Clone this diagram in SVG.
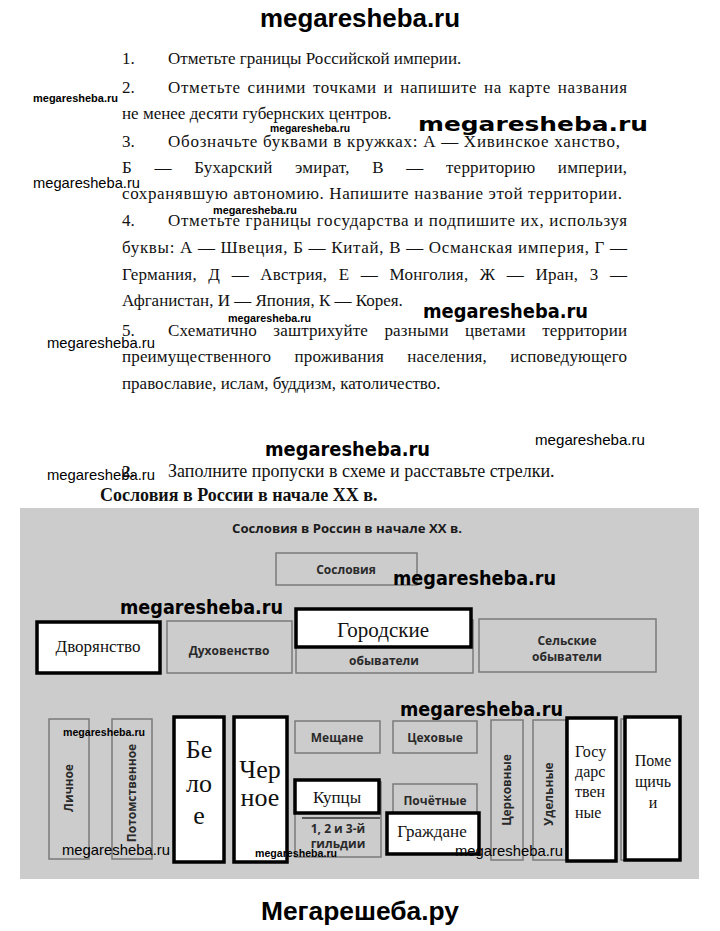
<svg xmlns="http://www.w3.org/2000/svg" width="720" height="931" viewBox="0 0 720 931">
<style>
.t{font-family:"Liberation Serif","Times New Roman",serif;font-size:17px;fill:#111}
.wmb{font-family:"DejaVu Sans",sans-serif;font-weight:bold;fill:#000}
.wms{font-family:"Liberation Sans",Arial,sans-serif;fill:#000}
.g{fill:#cccccc;stroke:#7a7a7a;stroke-width:1.5}
.w{fill:#fff;stroke:#000;stroke-width:3.5}
.s{font-family:"Open Sans","DejaVu Sans",sans-serif;font-weight:bold;font-size:12px;fill:#2a2a2a;text-anchor:middle}
.r{font-family:"Liberation Serif","Times New Roman",serif;fill:#111;text-anchor:middle}
</style>
<rect width="720" height="931" fill="#fff"/>
<text x="360" y="27" text-anchor="middle" font-family="Liberation Sans,Arial,sans-serif" font-weight="bold" font-size="26" textLength="200" lengthAdjust="spacingAndGlyphs">megaresheba.ru</text>

<g id="tasks" class="t">
<text x="122" y="64">1.</text><text x="168" y="64">Отметьте границы Российской империи.</text>
<text x="122" y="93">2.</text><text x="168" y="93" textLength="459" style="word-spacing:2px">Отметьте синими точками и напишите на карте названия</text>
<text x="122" y="119">не менее десяти губернских центров.</text>
<text x="122" y="147">3.</text><text x="168" y="147" textLength="452">Обозначьте буквами в кружках: А — Хивинское ханство,</text>
<text x="122" y="173" textLength="505" style="word-spacing:18px">Б — Бухарский эмират, В — территорию империи,</text>
<text x="122" y="199" textLength="500">сохранявшую автономию. Напишите название этой территории.</text>
<text x="122" y="226">4.</text><text x="168" y="226" textLength="459">Отметьте границы государства и подпишите их, используя</text>
<text x="122" y="253" textLength="505">буквы: А — Швеция, Б — Китай, В — Османская империя, Г —</text>
<text x="122" y="280" textLength="505" style="word-spacing:7px">Германия, Д — Австрия, Е — Монголия, Ж — Иран, 3 —</text>
<text x="122" y="306">Афганистан, И — Япония, К — Корея.</text>
<text x="122" y="336">5.</text><text x="168" y="336" textLength="459" style="word-spacing:12px">Схематично заштрихуйте разными цветами территории</text>
<text x="122" y="362" textLength="505" style="word-spacing:19px">преимущественного проживания населения, исповедующего</text>
<text x="122" y="389">православие, ислам, буддизм, католичество.</text>
<text x="122" y="477" font-weight="bold">2.</text><text x="168" y="477" font-size="18">Заполните пропуски в схеме и расставьте стрелки.</text>
<text x="100" y="501" font-weight="bold" font-size="18">Сословия в России в начале XX в.</text>
</g>

<rect x="20" y="508" width="679" height="371" fill="#cccccc"/>
<text x="347" y="533" text-anchor="middle" font-family="Open Sans,DejaVu Sans,sans-serif" font-weight="bold" font-size="12.5" fill="#1a1a1a" textLength="230" lengthAdjust="spacingAndGlyphs">Сословия в Россин в начале XX в.</text>

<g id="connectors"></g>

<g id="n-soslovia"><rect class="g" x="276" y="553" width="141" height="32"/><text class="s" x="346" y="574">Сословия</text></g>

<g id="n-dvoryanstvo"><rect class="w" x="37" y="622" width="123" height="51"/><text class="r" x="98" y="652" font-size="17">Дворянство</text></g>
<g id="n-duhovenstvo"><rect class="g" x="167" y="621" width="125" height="52"/><text class="s" x="229" y="655">Духовенство</text></g>
<g id="n-gorodskie"><rect class="g" x="296" y="620" width="177" height="53"/><text class="s" x="384" y="665">обыватели</text>
<rect class="w" x="296" y="609" width="175" height="38"/><text class="r" x="383" y="637" font-size="21">Городские</text></g>
<g id="n-selskie"><rect class="g" x="479" y="619" width="177" height="53"/><text class="s" x="567" y="645">Сельские</text><text class="s" x="567" y="661">обыватели</text></g>

<g id="n-lichnoe"><rect class="g" x="49" y="719" width="40" height="140"/><text class="s" transform="translate(73,788) rotate(-90)">Личное</text></g>
<g id="n-potomstv"><rect class="g" x="112" y="719" width="40" height="140"/><text class="s" transform="translate(136,793) rotate(-90)">Потомственное</text></g>
<g id="n-beloe"><rect class="w" x="174" y="717" width="50" height="145"/><text class="r" font-size="26"><tspan x="199" y="758">Бе</tspan><tspan x="199" y="792">ло</tspan><tspan x="199" y="824">е</tspan></text></g>
<g id="n-chernoe"><rect class="w" x="234" y="717" width="53" height="145"/><text class="r" font-size="26"><tspan x="260" y="778">Чер</tspan><tspan x="260" y="806">ное</tspan></text></g>

<g id="n-meshchane"><rect class="g" x="295" y="721" width="85" height="32"/><text class="s" x="337" y="742">Мещане</text></g>
<g id="n-tsehovye"><rect class="g" x="393" y="721" width="84" height="32"/><text class="s" x="435" y="742">Цеховые</text></g>
<g id="n-kuptsy"><rect class="g" x="295" y="782" width="86" height="75"/><text class="s" x="338" y="833">1, 2 и 3-й</text><text class="s" x="338" y="848">гильдии</text>
<rect class="w" x="295" y="780" width="84" height="33"/><text class="r" x="337" y="803" font-size="17">Купцы</text>
<line x1="302" y1="818" x2="380" y2="818" stroke="#333" stroke-width="1.5"/></g>
<g id="n-pochetnye"><rect class="g" x="393" y="784" width="84" height="60"/><text class="s" x="435" y="805">Почётные</text>
<rect class="w" x="387" y="813" width="92" height="41"/><text class="r" x="432" y="837" font-size="17">Граждане</text></g>

<g id="n-tserkovnye"><rect class="g" x="491" y="720" width="32" height="140"/><text class="s" transform="translate(511,790) rotate(-90)">Церковные</text></g>
<g id="n-udelnye"><rect class="g" x="533" y="720" width="33" height="140"/><text class="s" transform="translate(553,794) rotate(-90)">Удельные</text></g>
<g id="n-gosud"><rect class="w" x="567" y="718" width="49" height="143"/><text class="r" font-size="16" style="text-anchor:start"><tspan x="575" y="757">Госу</tspan><tspan x="575" y="777">дарс</tspan><tspan x="575" y="797">твен</tspan><tspan x="575" y="818">ные</tspan></text></g>
<g id="n-pomesh"><rect class="g" x="621" y="719" width="55" height="141"/><rect class="w" x="625" y="717" width="55" height="143"/><text class="r" font-size="16"><tspan x="653" y="766">Поме</tspan><tspan x="653" y="787">щичь</tspan><tspan x="653" y="808">и</tspan></text></g>

<g id="watermarks">
<text class="wms" x="33" y="102" font-size="11" font-weight="bold" textLength="85" lengthAdjust="spacingAndGlyphs">megaresheba.ru</text>
<text class="wmb" x="418" y="131" font-size="20" textLength="230" lengthAdjust="spacingAndGlyphs">megaresheba.ru</text>
<text class="wms" x="270" y="132" font-size="10" font-weight="bold" textLength="80" lengthAdjust="spacingAndGlyphs">megaresheba.ru</text>
<text class="wms" x="33" y="188" font-size="15" textLength="107" lengthAdjust="spacingAndGlyphs">megaresheba.ru</text>
<text class="wms" x="213" y="214" font-size="10" font-weight="bold" textLength="84" lengthAdjust="spacingAndGlyphs">megaresheba.ru</text>
<text class="wms" x="228" y="322" font-size="10" font-weight="bold" textLength="83" lengthAdjust="spacingAndGlyphs">megaresheba.ru</text>
<text class="wmb" x="423" y="318" font-size="19" textLength="165" lengthAdjust="spacingAndGlyphs">megaresheba.ru</text>
<text class="wms" x="47" y="348" font-size="15" textLength="108" lengthAdjust="spacingAndGlyphs">megaresheba.ru</text>
<text class="wmb" x="265" y="456" font-size="19" textLength="165" lengthAdjust="spacingAndGlyphs">megaresheba.ru</text>
<text class="wms" x="535" y="445" font-size="15" textLength="110" lengthAdjust="spacingAndGlyphs">megaresheba.ru</text>
<text class="wms" x="47" y="480" font-size="15" textLength="108" lengthAdjust="spacingAndGlyphs">megaresheba.ru</text>
<text class="wmb" x="120" y="614" font-size="19" textLength="163" lengthAdjust="spacingAndGlyphs">megaresheba.ru</text>
<text class="wmb" x="393" y="585" font-size="19" textLength="163" lengthAdjust="spacingAndGlyphs">megaresheba.ru</text>
<text class="wmb" x="400" y="716" font-size="19" textLength="163" lengthAdjust="spacingAndGlyphs">megaresheba.ru</text>
<text class="wms" x="63" y="736" font-size="10" font-weight="bold" textLength="82" lengthAdjust="spacingAndGlyphs">megaresheba.ru</text>
<text class="wms" x="62" y="855" font-size="15" textLength="108" lengthAdjust="spacingAndGlyphs">megaresheba.ru</text>
<text class="wms" x="255" y="857" font-size="10" font-weight="bold" textLength="82" lengthAdjust="spacingAndGlyphs">megaresheba.ru</text>
<text class="wms" x="455" y="856" font-size="15" textLength="108" lengthAdjust="spacingAndGlyphs">megaresheba.ru</text>
</g>
<text x="360" y="920" text-anchor="middle" font-family="Liberation Sans,Arial,sans-serif" font-weight="bold" font-size="25" textLength="198" lengthAdjust="spacingAndGlyphs">Мегарешеба.ру</text>
</svg>
